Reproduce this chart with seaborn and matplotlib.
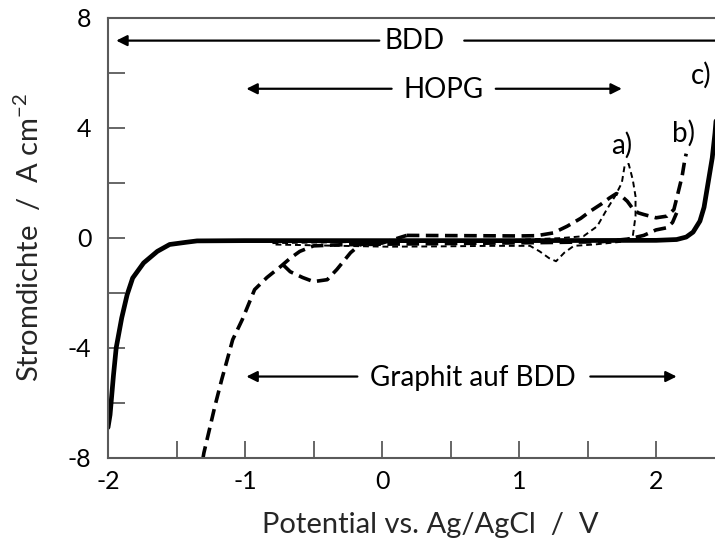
import numpy as np
import pandas as pd
import matplotlib
matplotlib.use("Agg")
import matplotlib.pyplot as plt
import seaborn as sns

# ---- cyclic voltammograms (potential in V vs. Ag/AgCl, current density in A cm^-2) ----
# c) BDD
bdd_pot = [-2.00, -1.985, -1.96, -1.94, -1.90, -1.86, -1.82, -1.74, -1.64, -1.55,
           -1.43, -1.35, -1.00, 0.00, 1.00, 2.00, 2.15, 2.22, 2.27, 2.32, 2.35,
           2.37, 2.39, 2.41, 2.43, 2.45]
bdd_j = [-6.9, -6.44, -5.0, -4.0, -2.92, -2.07, -1.47, -0.92, -0.50, -0.25,
         -0.17, -0.12, -0.11, -0.11, -0.11, -0.10, -0.07, 0.02, 0.20, 0.60, 1.10,
         1.70, 2.30, 2.90, 3.80, 5.0]

# b) Graphit auf BDD: anodic sweep, return sweep, cathodic return hump
gb_fwd_pot = [0.18, 0.60, 1.00, 1.13, 1.25, 1.35, 1.45, 1.52, 1.60, 1.66, 1.71,
              1.75, 1.79, 1.83, 1.87, 1.91, 2.00, 2.08, 2.13, 2.16, 2.19, 2.21, 2.22]
gb_fwd_j = [0.08, 0.07, 0.06, 0.07, 0.17, 0.41, 0.70, 0.96, 1.22, 1.44, 1.60,
            1.50, 1.32, 1.05, 0.90, 0.84, 0.72, 0.78, 1.02, 1.62, 2.23, 2.84, 3.05]
gb_ret_pot = [2.15, 2.12, 2.08, 2.00, 1.91, 1.80, 1.60, 1.20, 0.80, 0.40, 0.00,
              -0.30, -0.50, -0.60, -0.67, -0.74, -0.84, -0.93, -1.02, -1.09,
              -1.13, -1.17, -1.22, -1.26, -1.30, -1.32]
gb_ret_j = [0.90, 0.55, 0.36, 0.28, 0.08, -0.05, -0.15, -0.18, -0.20, -0.22,
            -0.24, -0.26, -0.30, -0.50, -0.75, -1.05, -1.45, -1.89, -2.98, -3.71,
            -4.44, -5.16, -6.13, -6.98, -7.82, -8.40]
gb_hump_pot = [-0.72, -0.67, -0.58, -0.50, -0.40, -0.33, -0.23, -0.16, 0.00, 0.18]
gb_hump_j = [-1.00, -1.24, -1.45, -1.60, -1.53, -1.16, -0.55, -0.25, -0.20, 0.08]

# a) HOPG
hopg_pot = [-0.80, -0.50, 0.00, 0.50, 1.00, 1.30, 1.47, 1.57, 1.64, 1.70, 1.75,
            1.77, 1.80, 1.83, 1.85, 1.85, 1.83, 1.75, 1.55, 1.40, 1.33, 1.27,
            1.22, 1.15, 1.08, 0.80, 0.40, 0.04, -0.30, -0.80]
hopg_j = [-0.20, -0.18, -0.15, -0.12, -0.08, -0.02, 0.05, 0.41, 1.02, 1.50, 1.99,
          2.60, 2.68, 2.10, 1.50, 0.78, 0.05, -0.15, -0.25, -0.30, -0.55, -0.86,
          -0.75, -0.50, -0.30, -0.30, -0.32, -0.33, -0.30, -0.25]

x_major = [-2, -1, 0, 1, 2]
y_major = [-8, -4, 0, 4, 8]

sns.set_theme(style="white")
plt.rcParams["font.family"] = ["Lato", "DejaVu Sans"]
plt.rcParams["mathtext.default"] = "regular"
plt.rcParams["axes.unicode_minus"] = False

fig = plt.figure(figsize=(7.15, 5.38), dpi=100)
ax = fig.add_axes([108 / 715, 80.3 / 538, 607 / 715, 440.2 / 538])

frame = "#5a5a5a"

sns.lineplot(x=bdd_pot, y=bdd_j, sort=False, estimator=None, ax=ax,
             color="black", lw=3.4, solid_capstyle="round")

gb = pd.DataFrame({
    "E": gb_fwd_pot + gb_ret_pot + gb_hump_pot,
    "j": gb_fwd_j + gb_ret_j + gb_hump_j,
    "seg": [0] * len(gb_fwd_pot) + [1] * len(gb_ret_pot) + [2] * len(gb_hump_pot),
})
sns.lineplot(data=gb, x="E", y="j", units="seg", sort=False, estimator=None,
             ax=ax, color="black", lw=2.6, dashes=False, linestyle=(0, (3.5, 1.8)))

sns.lineplot(x=hopg_pot, y=hopg_j, sort=False, estimator=None, ax=ax,
             color="black", lw=1.4, linestyle=(0, (3, 2)))

ax.set_xlim(-2, 2.43)
ax.set_ylim(-8, 8)

ax.set_xticks(np.arange(-2, 2.5, 0.5))
ax.set_xticklabels([f"{v:g}" if v in x_major else "" for v in np.arange(-2, 2.5, 0.5)])
ax.set_yticks(np.arange(-8, 9, 2))
ax.set_yticklabels([f"{v:g}" if v in y_major else "" for v in np.arange(-8, 9, 2)])

ax.tick_params(axis="both", direction="in", length=12, width=1.3, color=frame,
               labelsize=18, labelcolor="black")
ax.tick_params(axis="x", pad=9)
ax.tick_params(axis="y", pad=12)
ax.tick_params(left=True, bottom=True)

for side in ["left", "bottom", "top"]:
    ax.spines[side].set_color(frame)
    ax.spines[side].set_linewidth(1.5)
ax.spines["right"].set_visible(False)

ax.set_xlabel("Potential vs. Ag/AgCl  /  V", fontsize=21)
ax.xaxis.set_label_coords((430 - 108) / 607, -(525 - 457.7) / 440.2)
ax.xaxis.label.set_va("center")
ax.set_ylabel("Stromdichte  /  A cm$^{-2}$", fontsize=21)
ax.yaxis.set_label_coords(-(108 - 28) / 607, 0.5)
ax.yaxis.label.set_va("center")

# range arrows with labels
arrow = dict(arrowstyle="-|>", color="black", lw=1.6, mutation_scale=16,
             shrinkA=0, shrinkB=0)
txt = dict(fontsize=20, ha="center", va="center", color="black")

ax.text(0.235, 7.13, "BDD", **txt)
ax.annotate("", xy=(-1.94, 7.16), xytext=(-0.02, 7.16), arrowprops=arrow)
ax.annotate("", xy=(2.7, 7.16), xytext=(0.6, 7.16), arrowprops=arrow,
            annotation_clip=False)

ax.text(0.45, 5.35, "HOPG", **txt)
ax.annotate("", xy=(-0.99, 5.41), xytext=(0.07, 5.41), arrowprops=arrow)
ax.annotate("", xy=(1.75, 5.41), xytext=(0.83, 5.41), arrowprops=arrow)

ax.text(0.66, -5.1, "Graphit auf BDD", **txt)
ax.annotate("", xy=(-0.99, -5.05), xytext=(-0.18, -5.05), arrowprops=arrow)
ax.annotate("", xy=(2.15, -5.05), xytext=(1.52, -5.05), arrowprops=arrow)

ax.text(1.75, 3.35, "a)", **txt)
ax.text(2.2, 3.8, "b)", **txt)
ax.text(2.33, 5.9, "c)", **txt)

fig.savefig("out.png", dpi=100)
